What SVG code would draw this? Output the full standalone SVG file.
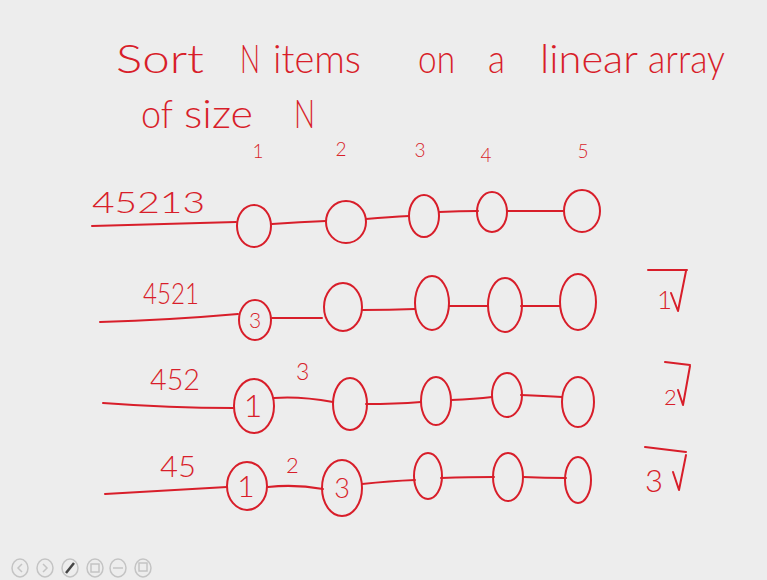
<svg xmlns="http://www.w3.org/2000/svg" width="767" height="580" viewBox="0 0 767 580">
<style>
.ink{fill:none;stroke:#d81e2a;stroke-width:2;stroke-linecap:round;stroke-linejoin:round}
.t{fill:#d81e2a;font-family:Lato,"Liberation Sans",Arial,sans-serif;font-weight:300}
.title{font-size:40px}
.num{font-size:19px;text-anchor:middle}
.seq{font-size:30px}
.lab{text-anchor:middle}
.ui{fill:none;stroke:#c4c4c4;stroke-width:1.5}
</style>
<rect width="767" height="580" fill="#ededed"/>
<g id="title">
<text class="t title" x="116" y="73" textLength="88" lengthAdjust="spacingAndGlyphs">Sort</text>
<text class="t title" x="240" y="73" textLength="20" lengthAdjust="spacingAndGlyphs">N</text>
<text class="t title" x="273" y="73" textLength="88" lengthAdjust="spacingAndGlyphs">items</text>
<text class="t title" x="418" y="73" textLength="37" lengthAdjust="spacingAndGlyphs">on</text>
<text class="t title" x="488" y="73" textLength="17" lengthAdjust="spacingAndGlyphs">a</text>
<text class="t title" x="540" y="73" textLength="98" lengthAdjust="spacingAndGlyphs">linear</text>
<text class="t title" x="648" y="73" textLength="77" lengthAdjust="spacingAndGlyphs">array</text>
<text class="t title" x="141" y="128" textLength="32" lengthAdjust="spacingAndGlyphs">of</text>
<text class="t title" x="184" y="128" textLength="69" lengthAdjust="spacingAndGlyphs">size</text>
<text class="t title" x="294" y="128" textLength="21" lengthAdjust="spacingAndGlyphs">N</text>
</g>
<g id="indices">
<text class="t num" x="258" y="158">1</text>
<text class="t num" x="341" y="156">2</text>
<text class="t num" x="420" y="157">3</text>
<text class="t num" x="486" y="162">4</text>
<text class="t num" x="583" y="158">5</text>
</g>
<g id="connectors" class="ink">
<path d="M92,226 Q160,224 236,222"/>
<path d="M272,224 Q300,222 326,221"/>
<path d="M366,219 Q390,217 409,216"/>
<path d="M439,212 Q460,211 478,211"/>
<path d="M507,211 Q535,211 564,211"/>
<path d="M100,322 Q170,320 238,314"/>
<path d="M272,318 Q300,318 322,318"/>
<path d="M362,310 Q390,310 415,309"/>
<path d="M449,306 Q470,306 488,306"/>
<path d="M521,306 Q540,306 560,306"/>
<path d="M103,403 Q170,408 233,408"/>
<path d="M274,398 Q300,396 333,402"/>
<path d="M366,404 Q395,404 421,402"/>
<path d="M451,400 Q475,399 492,397"/>
<path d="M521,395 Q545,396 562,397"/>
<path d="M105,494 Q170,490 227,487"/>
<path d="M268,487 Q295,484 323,489"/>
<path d="M362,484 Q390,481 415,480"/>
<path d="M441,478 Q470,477 494,477"/>
<path d="M523,477 Q545,478 566,478"/>
</g>
<g id="row1">
<text class="t seq" x="92" y="213" textLength="113" lengthAdjust="spacingAndGlyphs">45213</text>
<g id="r1n1"><ellipse class="ink" cx="254" cy="226" rx="17" ry="21"/></g>
<g id="r1n2"><ellipse class="ink" cx="346" cy="222" rx="20" ry="21"/></g>
<g id="r1n3"><ellipse class="ink" cx="424" cy="216" rx="15" ry="21"/></g>
<g id="r1n4"><ellipse class="ink" cx="492" cy="212" rx="15" ry="20"/></g>
<g id="r1n5"><ellipse class="ink" cx="582" cy="211" rx="18" ry="21"/></g>
</g>
<g id="row2">
<text class="t seq" x="143" y="304" font-size="28" textLength="56" lengthAdjust="spacingAndGlyphs">4521</text>
<g id="r2n1"><ellipse class="ink" cx="255" cy="320" rx="16" ry="20"/><text class="t lab" x="255" y="328" font-size="21">3</text></g>
<g id="r2n2"><ellipse class="ink" cx="343" cy="307" rx="19" ry="24"/></g>
<g id="r2n3"><ellipse class="ink" cx="432" cy="303" rx="17" ry="27"/></g>
<g id="r2n4"><ellipse class="ink" cx="505" cy="305" rx="17" ry="27"/></g>
<g id="r2n5"><ellipse class="ink" cx="578" cy="302" rx="18" ry="28"/></g>
<g id="r2mark"><text class="t" x="657" y="309" font-size="26">1</text><path class="ink" d="M671,293 L678,311 L686,271 M648,270 L687,270"/></g>
</g>
<g id="row3">
<text class="t seq" x="150" y="390" font-size="28" textLength="50" lengthAdjust="spacingAndGlyphs">452</text>
<text class="t" x="296" y="380" font-size="23">3</text>
<g id="r3n1"><ellipse class="ink" cx="254" cy="406" rx="20" ry="27"/><text class="t lab" x="253" y="417" font-size="32">1</text></g>
<g id="r3n2"><ellipse class="ink" cx="350" cy="404" rx="17" ry="26"/></g>
<g id="r3n3"><ellipse class="ink" cx="436" cy="401" rx="15" ry="24"/></g>
<g id="r3n4"><ellipse class="ink" cx="507" cy="395" rx="15" ry="22"/></g>
<g id="r3n5"><ellipse class="ink" cx="578" cy="402" rx="16" ry="25"/></g>
<g id="r3mark"><text class="t" x="664" y="405" font-size="22">2</text><path class="ink" d="M678,390 L683,405 L690,366 M665,362 L690,365"/></g>
</g>
<g id="row4">
<text class="t seq" x="160" y="477" font-size="28" textLength="36" lengthAdjust="spacingAndGlyphs">45</text>
<text class="t" x="286" y="473" font-size="22">2</text>
<g id="r4n1"><ellipse class="ink" cx="247" cy="486" rx="20" ry="24"/><text class="t lab" x="246" y="497" font-size="30">1</text></g>
<g id="r4n2"><ellipse class="ink" cx="342" cy="488" rx="20" ry="28"/><text class="t lab" x="342" y="498" font-size="27">3</text></g>
<g id="r4n3"><ellipse class="ink" cx="428" cy="476" rx="14" ry="23"/></g>
<g id="r4n4"><ellipse class="ink" cx="508" cy="477" rx="15" ry="24"/></g>
<g id="r4n5"><ellipse class="ink" cx="578" cy="480" rx="13" ry="23"/></g>
<g id="r4mark"><text class="t" x="645" y="492" font-size="31">3</text><path class="ink" d="M673,472 L679,490 L686,455 M645,447 L686,452"/></g>
</g>
<g id="toolbar">
<ellipse class="ui" cx="20" cy="568" rx="8" ry="9"/><path class="ui" d="M22,564 L18,568 L22,572"/>
<ellipse class="ui" cx="45" cy="568" rx="8" ry="9"/><path class="ui" d="M43,564 L47,568 L43,572"/>
<ellipse class="ui" cx="70" cy="568" rx="8" ry="9"/><path d="M66,573 L74,563" stroke="#444" stroke-width="2.5" fill="none"/>
<ellipse class="ui" cx="95" cy="568" rx="8" ry="9"/><rect class="ui" x="91" y="564" width="8" height="8"/>
<ellipse class="ui" cx="118" cy="568" rx="8" ry="9"/><path class="ui" d="M113,568 L123,568"/>
<ellipse class="ui" cx="143" cy="568" rx="8" ry="9"/><rect class="ui" x="139" y="563" width="8" height="8"/>
</g>
</svg>
